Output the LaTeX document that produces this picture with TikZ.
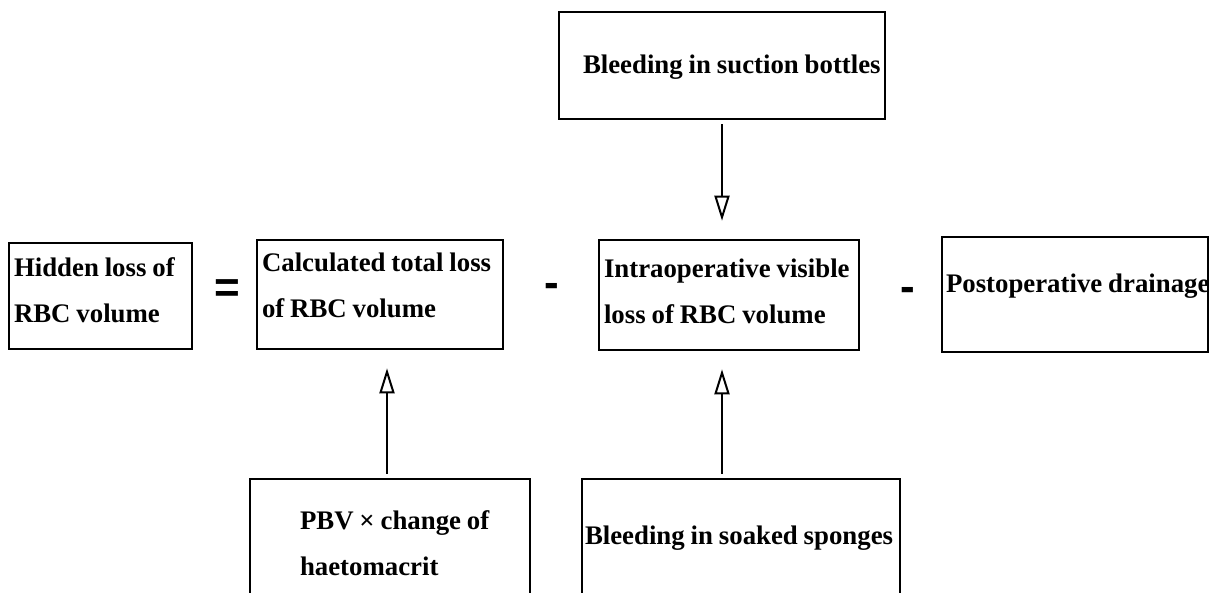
\documentclass[tikz,border=0pt]{standalone}
\usepackage{fontspec}
\setmainfont{Liberation Serif}[WordSpace=0.88]
\newfontfamily\symfont{Liberation Sans}
\usetikzlibrary{arrows.meta}
% #1 box height, #2 text width, #3 first baseline below top, #4 text
\newcommand\boxtxt[4]{\parbox[c][#1][t]{#2}{\raggedright\rule{0pt}{#3}#4}}
\begin{document}
\begin{tikzpicture}[x=1pt,y=-1pt,
  box/.style={draw, line width=2.6pt, inner xsep=5pt, inner ysep=0pt,
    font=\fontsize{26.8}{46}\selectfont\bfseries},
  op/.style={font=\symfont\fontsize{44}{44}\selectfont\bfseries, inner sep=0pt},
  flow/.style={line width=2.4pt, -{Triangle[open, length=25pt, width=15pt, line width=2pt]},
    shorten <=4pt, shorten >=18pt}]
\useasboundingbox (0,0) rectangle (1210,592);
\node[box] (hidden) at (100.5,296)
  {\boxtxt{106pt}{173pt}{33pt}{Hidden loss of\\RBC volume}};
\node[op] (eq) at (227,291) {=};
\node[box] (calc) at (380,294.5)
  {\boxtxt{109pt}{236pt}{31pt}{Calculated total loss\\of RBC volume}};
\node[op] (m1) at (551.5,290.5) {-};
\node[box] (intra) at (729,295)
  {\boxtxt{110pt}{250pt}{37pt}{Intraoperative visible\\loss of RBC volume}};
\node[op] (m2) at (908,294) {-};
\node[box, inner xsep=4pt] (post) at (1075,294.5)
  {\boxtxt{115pt}{258pt}{55pt}{\mbox{Postoperative drainage}}};
\node[box] (top) at (722,65.5)
  {\boxtxt{107pt}{316pt}{61pt}{\hspace*{19pt}\mbox{Bleeding in suction bottles}}};
\node[box] (pbv) at (390,545)
  {\boxtxt{132pt}{270pt}{50pt}{\hspace*{45pt}PBV × change of\\\hspace*{45pt}haetomacrit}};
\node[box, inner xsep=3pt] (sponge) at (741,539)
  {\boxtxt{120pt}{312pt}{65pt}{\mbox{Bleeding in soaked sponges}}};
\draw[flow] (top.south) -- (top.south |- intra.north);
\draw[flow] ([xshift=-3pt]pbv.north) -- ([xshift=-3pt]pbv.north |- calc.south);
\draw[flow] (top.south |- sponge.north) -- (top.south |- intra.south);
\end{tikzpicture}
\end{document}
